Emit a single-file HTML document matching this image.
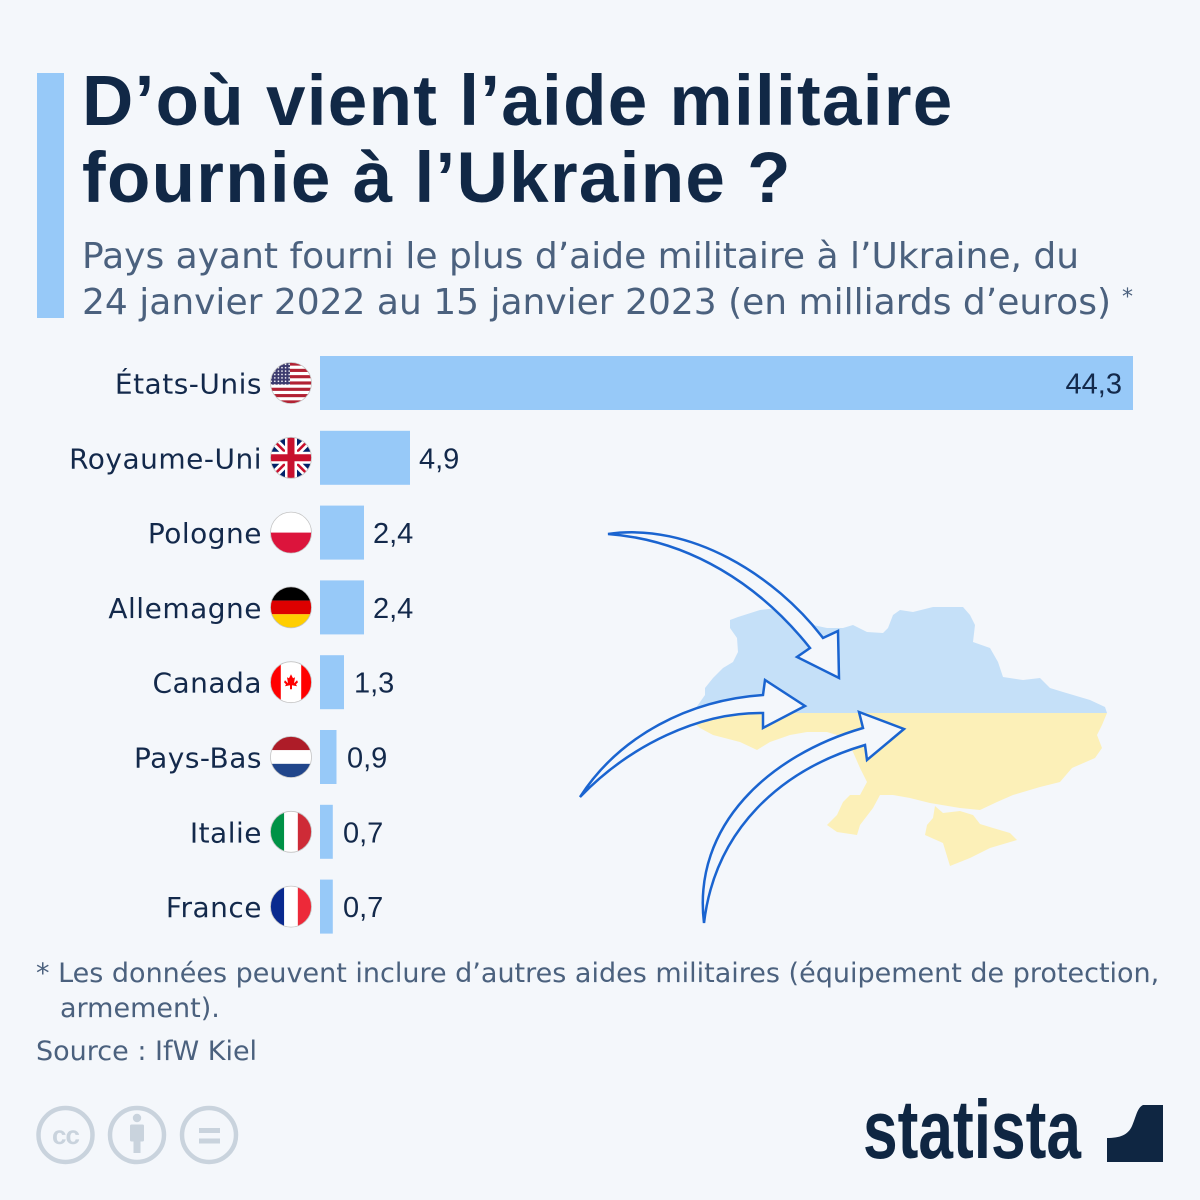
<!DOCTYPE html>
<html><head><meta charset="utf-8">
<style>
html,body{margin:0;padding:0;background:#f4f7fb;}
svg{display:block;}
</style></head>
<body>
<svg width="1200" height="1200" viewBox="0 0 1200 1200" xmlns="http://www.w3.org/2000/svg">
<defs>
<clipPath id="fc"><circle cx="0" cy="0" r="20.5"/></clipPath>
<clipPath id="topHalf"><rect x="600" y="560" width="560" height="153"/></clipPath>
<clipPath id="botHalf"><rect x="600" y="713" width="560" height="200"/></clipPath>
<pattern id="stars" x="0" y="0" width="3.6" height="3.4" patternUnits="userSpaceOnUse"><circle cx="1.8" cy="1.7" r="0.8" fill="#fff"/></pattern>
</defs>
<rect width="1200" height="1200" fill="#f4f7fb"/>

<!-- header -->
<rect x="37" y="73" width="27" height="245" fill="#97c9f8"/>
<g font-family="'Liberation Sans', Arial, sans-serif" font-weight="700" font-size="71" fill="#112846" style="letter-spacing:1.3px">
<text x="82" y="125">D’où vient l’aide militaire</text>
<text x="82" y="202">fournie à l’Ukraine ?</text>
</g>
<g font-family="'DejaVu Sans', sans-serif" font-size="36" fill="#4b617e">
<text x="82" y="268">Pays ayant fourni le plus d’aide militaire à l’Ukraine, du</text>
<text x="82" y="314">24 janvier 2022 au 15 janvier 2023 (en milliards d’euros)</text>
<text x="1122" y="304" font-size="22">*</text>
</g>

<!-- map -->
<g>
<g clip-path="url(#topHalf)" fill="#c5e0f8">
<path d="M730,620 738,617 760,610 777,608 790,615 813,625 827,628 843,628 853,625 867,632 883,633 888,628 893,615 900,610 913,612 933,607 963,607 970,615 975,625 973,642 990,648 998,662 1003,677 1023,680 1040,678 1050,688 1063,692 1090,700 1105,707 1107,713 1102,725 1097,735 1102,748 1095,758 1072,768 1060,782 1040,787 1013,795 997,802 980,810 960,808 930,803 910,798 893,795 880,795 873,808 860,825 857,835 837,832 827,825 837,815 843,802 850,795 860,795 867,782 860,768 853,752 847,738 827,732 807,732 790,735 770,742 757,750 740,742 713,735 700,728 693,722 693,712 705,695 705,688 713,678 723,668 733,662 738,652 737,638 730,628 Z"/>
</g>
<g clip-path="url(#botHalf)" fill="#fcf0b8">
<path d="M730,620 738,617 760,610 777,608 790,615 813,625 827,628 843,628 853,625 867,632 883,633 888,628 893,615 900,610 913,612 933,607 963,607 970,615 975,625 973,642 990,648 998,662 1003,677 1023,680 1040,678 1050,688 1063,692 1090,700 1105,707 1107,713 1102,725 1097,735 1102,748 1095,758 1072,768 1060,782 1040,787 1013,795 997,802 980,810 960,808 930,803 910,798 893,795 880,795 873,808 860,825 857,835 837,832 827,825 837,815 843,802 850,795 860,795 867,782 860,768 853,752 847,738 827,732 807,732 790,735 770,742 757,750 740,742 713,735 700,728 693,722 693,712 705,695 705,688 713,678 723,668 733,662 738,652 737,638 730,628 Z"/>
<path d="M935,806 943,813 960,811 973,815 980,824 993,828 1010,833 1017,840 990,848 970,858 950,866 943,843 925,835 927,825 933,818 Z"/>
</g>
</g>

<!-- arrows -->
<g fill="#f4f7fb" stroke="#1a64d0" stroke-width="2.5" stroke-linejoin="miter">
<path d="M608,534 C690,522 775,575 823,638 L838,631 L839,678 L797,657 L810,648 C760,585 690,540 608,534 Z"/>
<path d="M580,797 C620,735 690,700 763,695 L765,680 L805,706 L763,728 L763,713 C700,712 630,745 580,797 Z"/>
<path d="M704,923 C692,825 770,755 863,728 L859,712 L904,729 L867,760 L865,745 C780,770 715,830 704,923 Z"/>
</g>

<!-- bars -->
<g fill="#97c9f8">
<rect x="320" y="356" width="813" height="54"/>
<rect x="320" y="430.8" width="90" height="54"/>
<rect x="320" y="505.6" width="44" height="54"/>
<rect x="320" y="580.4" width="44" height="54"/>
<rect x="320" y="655.2" width="24" height="54"/>
<rect x="320" y="730" width="16.5" height="54"/>
<rect x="320" y="804.8" width="12.8" height="54"/>
<rect x="320" y="879.6" width="12.8" height="54"/>
</g>

<!-- country labels -->
<g font-family="'DejaVu Sans', sans-serif" font-size="28" fill="#13294b" text-anchor="end" style="letter-spacing:0.5px">
<text x="262" y="393.5">États-Unis</text>
<text x="262" y="468.3">Royaume-Uni</text>
<text x="262" y="543.1">Pologne</text>
<text x="262" y="617.9">Allemagne</text>
<text x="262" y="692.7">Canada</text>
<text x="262" y="767.5">Pays-Bas</text>
<text x="262" y="842.3">Italie</text>
<text x="262" y="917.1">France</text>
</g>

<!-- values -->
<g font-family="'Liberation Sans', Arial, sans-serif" font-size="29" fill="#13294b">
<text x="1122" y="393.5" text-anchor="end">44,3</text>
<text x="419" y="468.3">4,9</text>
<text x="373" y="543.1">2,4</text>
<text x="373" y="617.9">2,4</text>
<text x="354" y="692.7">1,3</text>
<text x="347" y="767.5">0,9</text>
<text x="343" y="842.3">0,7</text>
<text x="343" y="917.1">0,7</text>
</g>

<!-- flags -->
<g transform="translate(291,383)">
<g clip-path="url(#fc)">
<rect x="-21" y="-21" width="42" height="42" fill="#fff"/>
<g fill="#b22234">
<rect x="-21" y="-20.5" width="42" height="3.15"/>
<rect x="-21" y="-14.19" width="42" height="3.15"/>
<rect x="-21" y="-7.88" width="42" height="3.15"/>
<rect x="-21" y="-1.58" width="42" height="3.15"/>
<rect x="-21" y="4.73" width="42" height="3.15"/>
<rect x="-21" y="11.04" width="42" height="3.15"/>
<rect x="-21" y="17.35" width="42" height="3.15"/>
</g>
<rect x="-21" y="-21" width="20" height="22.6" fill="#3c3b6e"/>
<rect x="-21" y="-21" width="20" height="22.6" fill="url(#stars)"/>
</g>
<circle r="20.5" fill="none" stroke="#c4c4c4" stroke-width="0.8"/>
</g>
<g transform="translate(291,457.8)">
<g clip-path="url(#fc)">
<rect x="-21" y="-21" width="42" height="42" fill="#012169"/>
<path d="M-21,-21 L21,21 M21,-21 L-21,21" stroke="#fff" stroke-width="8"/>
<path d="M-21,-21 L21,21 M21,-21 L-21,21" stroke="#c8102e" stroke-width="2.6"/>
<path d="M0,-21 V21 M-21,0 H21" stroke="#fff" stroke-width="12"/>
<path d="M0,-21 V21 M-21,0 H21" stroke="#c8102e" stroke-width="7"/>
</g>
<circle r="20.5" fill="none" stroke="#c4c4c4" stroke-width="0.8"/>
</g>
<g transform="translate(291,532.6)">
<g clip-path="url(#fc)">
<rect x="-21" y="-21" width="42" height="21" fill="#fff"/>
<rect x="-21" y="0" width="42" height="21" fill="#dc143c"/>
</g>
<circle r="20.5" fill="none" stroke="#c4c4c4" stroke-width="0.8"/>
</g>
<g transform="translate(291,607.4)">
<g clip-path="url(#fc)">
<rect x="-21" y="-21" width="42" height="14.2" fill="#000"/>
<rect x="-21" y="-6.83" width="42" height="13.7" fill="#dd0000"/>
<rect x="-21" y="6.83" width="42" height="14.2" fill="#ffce00"/>
</g>
<circle r="20.5" fill="none" stroke="#c4c4c4" stroke-width="0.8"/>
</g>
<g transform="translate(291,682.2)">
<g clip-path="url(#fc)">
<rect x="-21" y="-21" width="42" height="42" fill="#fff"/>
<rect x="-21" y="-21" width="10.8" height="42" fill="#ff0000"/>
<rect x="10.2" y="-21" width="10.8" height="42" fill="#ff0000"/>
<path d="M0,-8 L2,-4 L4,-5 L3,1 L6,-2 L7,0 L5,2 L6,4 L1,3 L1,7 L-1,7 L-1,3 L-6,4 L-5,2 L-7,0 L-6,-2 L-3,1 L-4,-5 L-2,-4 Z" fill="#ff0000"/>
</g>
<circle r="20.5" fill="none" stroke="#c4c4c4" stroke-width="0.8"/>
</g>
<g transform="translate(291,757)">
<g clip-path="url(#fc)">
<rect x="-21" y="-21" width="42" height="14.2" fill="#ae1c28"/>
<rect x="-21" y="-6.83" width="42" height="13.7" fill="#fff"/>
<rect x="-21" y="6.83" width="42" height="14.2" fill="#21468b"/>
</g>
<circle r="20.5" fill="none" stroke="#c4c4c4" stroke-width="0.8"/>
</g>
<g transform="translate(291,831.8)">
<g clip-path="url(#fc)">
<rect x="-21" y="-21" width="14.2" height="42" fill="#009246"/>
<rect x="-6.83" y="-21" width="13.7" height="42" fill="#fff"/>
<rect x="6.83" y="-21" width="14.2" height="42" fill="#ce2b37"/>
</g>
<circle r="20.5" fill="none" stroke="#c4c4c4" stroke-width="0.8"/>
</g>
<g transform="translate(291,906.6)">
<g clip-path="url(#fc)">
<rect x="-21" y="-21" width="14.2" height="42" fill="#0a2a8f"/>
<rect x="-6.83" y="-21" width="13.7" height="42" fill="#fff"/>
<rect x="6.83" y="-21" width="14.2" height="42" fill="#ed2939"/>
</g>
<circle r="20.5" fill="none" stroke="#c4c4c4" stroke-width="0.8"/>
</g>

<!-- footer -->
<g font-family="'DejaVu Sans', sans-serif" font-size="27" fill="#4b617e">
<text x="36" y="982">* Les données peuvent inclure d’autres aides militaires (équipement de protection,</text>
<text x="60" y="1017">armement).</text>
<text x="36" y="1060">Source : IfW Kiel</text>
</g>

<!-- CC icons -->
<g fill="none" stroke="#c9d3dd" stroke-width="4.5">
<circle cx="65.5" cy="1135" r="27"/>
<circle cx="137" cy="1135" r="27"/>
<circle cx="209" cy="1135" r="27"/>
</g>
<text x="65.5" y="1144" text-anchor="middle" font-family="'Liberation Sans', Arial, sans-serif" font-weight="700" font-size="26" fill="#c9d3dd" style="letter-spacing:-1px">cc</text>
<g fill="#c9d3dd">
<circle cx="137" cy="1118" r="4.2"/>
<rect x="130" y="1124.5" width="14" height="17" rx="1.5"/>
<rect x="133.5" y="1138" width="7" height="15"/>
<rect x="199" y="1128" width="21" height="5"/>
<rect x="199" y="1138.5" width="21" height="5"/>
</g>

<!-- statista logo -->
<text transform="translate(863,1158) scale(0.75,1)" font-family="'Liberation Sans', Arial, sans-serif" font-weight="700" font-size="83" fill="#0f2642">statista</text>
<g transform="translate(1107,1105)">
<rect x="0" y="0" width="56" height="57" fill="#0f2642"/>
<path d="M0,0 H36 C30,3 29,12 25,21 C21,30 13,33 0,33 Z" fill="#f4f7fb"/>
</g>
</svg>
</body></html>
